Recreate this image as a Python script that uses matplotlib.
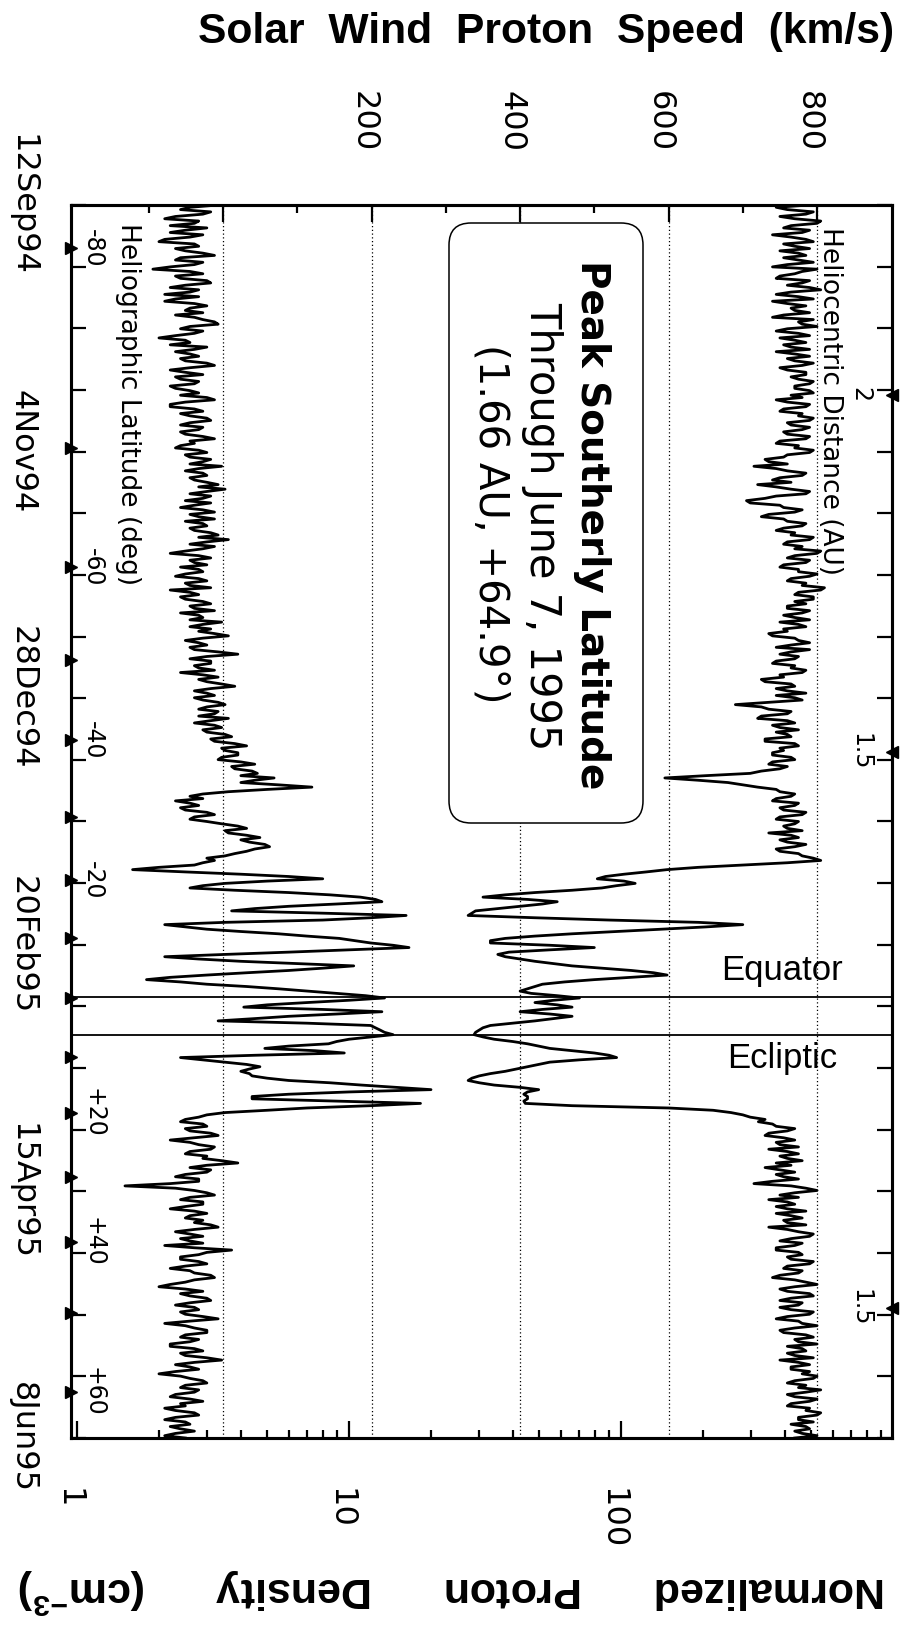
import numpy as np
import matplotlib
matplotlib.use('Agg')
import matplotlib.pyplot as plt
from matplotlib.patches import FancyBboxPatch
from matplotlib.ticker import FixedLocator, NullFormatter
from matplotlib.transforms import ScaledTranslation

plt.rcParams['font.family'] = ['DejaVu Sans']
plt.rcParams['mathtext.default'] = 'regular'
HELV = ['Liberation Sans', 'DejaVu Sans']

# ---- data: two values per day, starting 12 Sep 1994 ----
speed = [
    790, 745, 760, 795, 785, 750, 770, 805, 800, 765, 755, 790, 780, 740, 765, 785, 795, 755, 770, 790,
    750, 775, 785, 755, 775, 795, 760, 740, 800, 780, 770, 750, 745, 790, 780, 760, 790, 805, 765, 745,
    775, 795, 740, 760, 785, 765, 770, 790, 755, 740, 795, 775, 780, 800, 760, 745, 775, 790, 750, 770,
    785, 755, 765, 790, 745, 770, 790, 760, 770, 795, 780, 750, 760, 785, 785, 765, 775, 795, 790, 770,
    770, 790, 795, 765, 780, 745, 760, 790, 785, 755, 750, 780, 775, 795, 790, 760, 765, 790, 780, 755,
    760, 790, 785, 750, 745, 775, 770, 795, 790, 760, 755, 730, 735, 760, 715, 745, 760, 785, 780, 750,
    740, 765, 720, 745, 765, 790, 785, 745, 730, 705, 710, 750, 755, 780, 770, 735, 725, 755, 760, 785,
    780, 755, 745, 770, 765, 795, 790, 760, 755, 780, 770, 805, 800, 770, 760, 790, 785, 755, 750, 775,
    775, 800, 790, 765, 760, 785, 780, 810, 805, 775, 770, 795, 795, 770, 785, 760, 760, 790, 780, 755,
    770, 790, 750, 775, 785, 755, 760, 735, 740, 770, 775, 790, 765, 745, 790, 765, 750, 775, 770, 745,
    740, 770, 765, 785, 780, 750, 755, 725, 730, 765, 770, 745, 760, 785, 745, 770, 780, 735, 690, 725,
    735, 765, 760, 725, 720, 760, 770, 740, 750, 775, 745, 760, 765, 730, 730, 770, 775, 750, 755, 740,
    740, 765, 770, 740, 735, 760, 750, 725, 710, 650, 595, 640, 680, 700, 720, 745, 750, 770, 765, 745,
    740, 775, 770, 750, 755, 785, 780, 750, 745, 775, 770, 755, 760, 780, 735, 765, 775, 750, 760, 785,
    770, 745, 750, 775, 780, 795, 805, 760, 700, 640, 598, 570, 540, 515, 504, 540, 555, 530, 510, 470,
    420, 380, 350, 410, 450, 430, 400, 370, 340, 335, 330, 420, 520, 640, 700, 650, 590, 530, 470, 420,
    380, 360, 360, 440, 500, 440, 385, 370, 380, 400, 420, 445, 470, 510, 550, 580, 598, 550, 500, 460,
    430, 420, 410, 400, 415, 450, 480, 445, 420, 450, 470, 430, 400, 440, 470, 445, 420, 390, 360, 350,
    345, 340, 338, 350, 365, 390, 410, 425, 440, 470, 500, 520, 530, 480, 440, 425, 410, 395, 380, 360,
    345, 335, 330, 345, 365, 400, 425, 410, 405, 410, 410, 405, 407, 470, 600, 660, 684, 700, 710, 730,
    721, 740, 745, 770, 760, 735, 730, 755, 770, 745, 750, 775, 735, 760, 775, 750, 760, 780, 745, 765,
    730, 750, 770, 745, 755, 775, 740, 715, 765, 785, 800, 770, 750, 775, 735, 760, 770, 745, 760, 785,
    745, 765, 780, 755, 760, 785, 735, 760, 775, 795, 790, 765, 750, 780, 770, 745, 745, 775, 780, 760,
    765, 795, 790, 760, 755, 780, 775, 750, 740, 770, 785, 800, 770, 750, 760, 790, 795, 765, 750, 780,
    775, 750, 765, 795, 790, 760, 745, 775, 780, 800, 770, 750, 755, 785, 795, 770, 775, 800, 760, 780,
    785, 760, 770, 795, 750, 775, 790, 765, 765, 790, 780, 800, 795, 770, 760, 785, 775, 805, 785, 760,
    770, 800, 790, 765, 760, 790, 785, 805, 800, 775, 775, 795, 765, 785, 790, 770, 780, 800, 770,
]
density = [
    3.3, 2.6, 2.4, 3.1, 2.9, 2.3, 2.1, 2.8, 2.7, 2.2, 3.0, 2.5, 2.2, 2.9, 2.6, 2.1, 2.0, 2.7, 2.8, 2.3,
    2.5, 2.9, 3.2, 2.4, 2.3, 2.9, 2.7, 2.2, 1.9, 2.6, 2.9, 2.3, 2.4, 3.0, 3.1, 2.5, 2.2, 2.8, 2.6, 2.1,
    2.8, 2.3, 2.1, 2.7, 3.0, 2.6, 2.5, 2.9, 2.3, 2.7, 2.9, 3.2, 3.3, 2.6, 2.4, 2.9, 2.7, 2.3, 2.0, 2.5,
    2.6, 2.2, 3.0, 2.7, 2.3, 2.6, 2.8, 2.4, 2.5, 3.0, 3.2, 2.6, 2.2, 2.5, 2.9, 2.3, 2.4, 2.8, 2.7, 2.2,
    2.3, 2.6, 2.8, 2.4, 3.0, 3.2, 2.5, 2.2, 2.2, 2.7, 2.9, 2.4, 2.6, 3.0, 3.1, 2.6, 2.4, 2.9, 2.8, 2.4,
    2.5, 2.9, 3.2, 2.6, 2.7, 2.4, 2.3, 2.8, 3.0, 2.5, 2.6, 3.1, 2.9, 2.6, 3.4, 2.8, 2.5, 2.9, 3.0, 2.6,
    2.7, 3.0, 3.3, 2.8, 3.5, 3.0, 2.6, 3.1, 2.9, 2.5, 3.1, 2.7, 2.4, 2.9, 3.2, 2.6, 2.8, 3.2, 2.5, 2.9,
    3.0, 2.6, 2.7, 3.1, 3.3, 2.8, 3.6, 3.0, 2.6, 3.2, 2.9, 2.5, 2.2, 2.8, 3.1, 2.6, 2.7, 3.0, 2.4, 2.8,
    2.9, 2.5, 2.3, 2.8, 3.0, 2.5, 2.6, 3.1, 2.2, 2.6, 2.8, 2.4, 2.5, 2.9, 3.1, 2.6, 2.7, 3.2, 2.4, 2.8,
    2.9, 2.6, 3.4, 2.9, 2.6, 3.1, 2.8, 3.2, 3.6, 2.9, 2.5, 2.8, 3.0, 2.6, 2.7, 3.3, 3.9, 3.0, 2.6, 3.1,
    3.1, 2.7, 2.8, 3.2, 2.4, 2.9, 3.3, 2.8, 3.0, 3.4, 3.8, 3.1, 2.7, 3.0, 3.2, 2.7, 2.9, 3.3, 3.5, 3.0,
    2.8, 3.3, 3.2, 2.8, 3.6, 3.1, 2.7, 3.2, 3.4, 2.9, 3.0, 3.5, 3.7, 3.1, 3.2, 3.8, 4.2, 3.4, 3.5, 3.9,
    3.9, 3.4, 3.3, 4.0, 4.5, 3.7, 3.8, 4.4, 4.6, 4.0, 5.3, 4.5, 4.0, 5.5, 7.3, 5.0, 3.6, 2.9, 2.6, 2.9,
    2.3, 2.6, 2.8, 2.4, 2.5, 3.0, 3.2, 2.7, 2.6, 3.0, 3.4, 3.9, 4.2, 3.5, 3.6, 4.2, 4.7, 4.0, 4.3, 4.9,
    5.1, 4.5, 4.2, 3.8, 3.5, 3.0, 3.2, 2.9, 2.7, 2.0, 1.6, 2.5, 4.0, 6.0, 8.0, 5.0, 3.5, 2.9, 2.6, 3.8,
    6.0, 8.5, 11.0, 12.5, 13.2, 9.0, 6.0, 4.5, 3.7, 8.0, 16.2, 12.0, 8.0, 3.5, 2.1, 2.5, 3.0, 4.0, 5.5, 7.0,
    9.2, 10.5, 12.0, 14.5, 16.6, 10.0, 6.0, 3.5, 2.1, 2.8, 4.0, 6.5, 10.4, 8.0, 6.0, 4.2, 3.0, 2.2, 1.8, 2.4,
    3.0, 4.2, 5.5, 7.0, 9.0, 11.5, 13.5, 10.0, 7.0, 5.0, 4.1, 8.0, 13.2, 9.0, 6.0, 4.5, 3.3, 7.0, 12.0, 12.5,
    13.0, 13.5, 14.5, 12.0, 10.0, 9.0, 8.4, 6.0, 4.9, 7.5, 9.6, 4.5, 2.4, 2.9, 3.5, 4.2, 4.7, 4.3, 4.0, 4.3,
    4.4, 5.0, 6.0, 8.5, 11.1, 15.0, 20.0, 10.0, 6.0, 4.4, 4.4, 9.0, 18.3, 12.0, 7.0, 5.0, 3.5, 3.0, 2.8, 2.5,
    2.4, 2.9, 3.0, 2.5, 2.6, 3.1, 3.3, 2.7, 2.2, 2.6, 2.8, 3.2, 3.1, 2.6, 2.5, 3.0, 2.9, 3.4, 3.9, 3.0,
    2.6, 3.1, 3.0, 2.5, 2.3, 2.8, 2.8, 2.2, 1.5, 2.3, 2.7, 3.0, 3.2, 2.6, 2.4, 2.9, 2.9, 2.5, 2.2, 2.7,
    3.0, 2.6, 2.5, 2.9, 2.7, 3.1, 3.3, 2.7, 2.3, 2.6, 2.9, 2.4, 2.6, 2.9, 2.1, 2.7, 3.7, 3.0, 2.8, 2.4,
    2.4, 2.8, 3.0, 2.5, 2.2, 2.6, 2.7, 3.1, 3.2, 2.7, 2.5, 2.2, 2.0, 2.5, 2.9, 2.4, 2.6, 3.0, 3.1, 2.6,
    2.3, 2.7, 2.8, 2.4, 2.5, 2.9, 3.3, 2.6, 2.1, 2.5, 2.7, 3.0, 3.0, 2.5, 2.4, 2.8, 2.6, 2.2, 2.2, 2.7,
    2.9, 2.4, 2.5, 3.0, 3.4, 2.7, 2.3, 2.6, 2.8, 2.3, 2.0, 2.4, 2.6, 2.9, 3.0, 2.5, 2.4, 2.8, 2.7, 2.3,
    2.2, 2.6, 2.9, 2.4, 2.5, 2.1, 2.3, 2.7, 2.8, 2.3, 2.1, 2.5, 2.6, 2.2, 2.4, 2.7, 2.3, 2.1, 2.5,
]
assert len(speed) == len(density)
days = np.arange(len(speed)) * 0.5

n_days = 269
date_labels = ['12Sep94', '4Nov94', '28Dec94', '20Feb95', '15Apr95', '8Jun95']

# heliographic latitude crossings (deg, day)
lat_values = [-80, -70, -60, -50, -40, -30, -20, -10, 0, 10, 20, 30, 40, 50, 60]
lat_days = [9.4, 53.0, 79.0, 99.3, 116.7, 133.5, 147.3, 159.9, 173.0,
            185.9, 198.1, 212.0, 226.2, 241.7, 258.9]
lat_labelled = [-80, -60, -40, -20, 20, 40, 60]

# heliocentric distance marks (AU, day)
dist_labels = ['2', '1.5', '1.5']
dist_days = [41.4, 119.3, 240.6]

equator_day = 172.8
ecliptic_day = 181.1

speed_ticks = [0, 200, 400, 600, 800]
speed_tick_labels = ['', '200', '400', '600', '800']
dens_ticks = [1, 10, 100]
dens_tick_labels = ['1', '10', '100']

# ---- figure ----
W, H = 902, 1625
fig = plt.figure(figsize=(W / 100, H / 100), dpi=100)
ax = fig.add_axes([71 / W, 1 - 1438 / H, 821 / W, 1233 / H])
ax.set_xscale('log')
ax.set_xlim(0.95, 990)
ax.set_ylim(n_days, 0)
ax2 = ax.twiny()
ax2.set_xlim(-205, 901)

ax.plot(density, days, color='k', lw=2.0, zorder=3)
ax2.plot(speed, days, color='k', lw=2.0, zorder=3)

# speed axis on top
ax2.set_xticks(speed_ticks)
ax2.set_xticklabels(speed_tick_labels, rotation=-90, fontsize=23)
ax2.xaxis.set_minor_locator(FixedLocator([-100, 100, 300, 500, 700]))
ax2.tick_params(axis='x', which='major', direction='in', length=12, width=1.6, pad=38)
ax2.tick_params(axis='x', which='minor', direction='in', length=6, width=1.6)
ax2.xaxis.grid(True, which='major', color='k', linestyle=(0, (1, 2)), linewidth=0.9)

# density axis at bottom
ax.set_xticks(dens_ticks)
ax.set_xticklabels(dens_tick_labels, rotation=-90, fontsize=23)
ax.xaxis.set_minor_locator(FixedLocator([m * 10 ** e for e in range(3) for m in range(2, 10)]))
ax.xaxis.set_minor_formatter(NullFormatter())
ax.tick_params(axis='x', which='major', direction='in', length=12, width=1.6, pad=36)
ax.tick_params(axis='x', which='minor', direction='in', length=6, width=1.6)

# time axis on the left (and mirrored on the right)
tick_days = np.linspace(0, n_days, 21)
ax.set_yticks(tick_days)
ax.set_yticklabels([date_labels[i // 4] if i % 4 == 0 else '' for i in range(21)],
                   rotation=-90, fontsize=23)
for lbl in ax.get_yticklabels():
    lbl.set_va('center')
ax.tick_params(axis='y', which='major', direction='in', left=True, right=True,
               length=11, width=1.6, pad=24)

# the printed labels sit a little left of their ticks
shift = ScaledTranslation(-0.09, 0, fig.dpi_scale_trans)
for lbl in ax.get_xticklabels() + ax2.get_xticklabels():
    lbl.set_transform(lbl.get_transform() + shift)

for a in (ax, ax2):
    for sp in a.spines.values():
        sp.set_linewidth(2.2)

# equator / ecliptic crossings
ax.axhline(equator_day, color='k', lw=1.3, zorder=2)
ax.axhline(ecliptic_day, color='k', lw=1.3, zorder=2)
ax.text(0.866, equator_day - 5.9, 'Equator', transform=ax.get_yaxis_transform(),
        fontsize=25, family=HELV, ha='center', va='center')
ax.text(0.866, ecliptic_day + 5.0, 'Ecliptic', transform=ax.get_yaxis_transform(),
        fontsize=25, family=HELV, ha='center', va='center')

# latitude markers along the left edge
ax.plot([0] * len(lat_days), lat_days, ls='none', marker='>', ms=9, color='k',
        transform=ax.get_yaxis_transform(), clip_on=False, zorder=5)
for v, d in zip(lat_values, lat_days):
    if v in lat_labelled:
        ax.text(0.027, d, f'{v:+d}', transform=ax.get_yaxis_transform(),
                rotation=-90, fontsize=17, ha='center', va='center')
ax.text(0.070, 0.985, 'Heliographic Latitude (deg)', transform=ax.transAxes,
        rotation=-90, fontsize=19, ha='center', va='top')

# distance markers along the right edge
ax.plot([1] * len(dist_days), dist_days, ls='none', marker='<', ms=9, color='k',
        transform=ax.get_yaxis_transform(), clip_on=False, zorder=5)
for lab, d in zip(dist_labels, dist_days):
    ax.text(0.961, d, lab, transform=ax.get_yaxis_transform(),
            rotation=-90, fontsize=17, ha='center', va='center')
ax.text(0.9245, 0.982, 'Heliocentric Distance (AU)', transform=ax.transAxes,
        rotation=-90, fontsize=19, ha='center', va='top')

# annotation box
box = FancyBboxPatch((4.49, 8.02), 1.94, 6.00, boxstyle='round,pad=0,rounding_size=0.22',
                     transform=fig.dpi_scale_trans, facecolor='white', edgecolor='k',
                     lw=1.1, zorder=4)
ax2.add_patch(box)
fig.text(592 / W, 1 - 525 / H, 'Peak Southerly Latitude', rotation=-90,
         fontsize=28, fontweight='bold', ha='center', va='center', zorder=6)
fig.text(542 / W, 1 - 526 / H, 'Through June 7, 1995', rotation=-90,
         fontsize=30, ha='center', va='center', zorder=6)
fig.text(490 / W, 1 - 524 / H, '(1.66 AU, +64.9°)', rotation=-90,
         fontsize=29, ha='center', va='center', zorder=6)

# axis titles
fig.text(546 / W, 1 - 32 / H, 'Solar  Wind  Proton  Speed  (km/s)', family=HELV,
         fontsize=30.7, fontweight='bold', ha='center', va='center')
fig.text(452 / W, 1 - 1591 / H, 'Normalized      Proton      Density      (cm$^{-3}$)',
         family=HELV, fontsize=31, fontweight='bold', ha='center', va='center', rotation=180)

fig.savefig('out.png', dpi=100)
